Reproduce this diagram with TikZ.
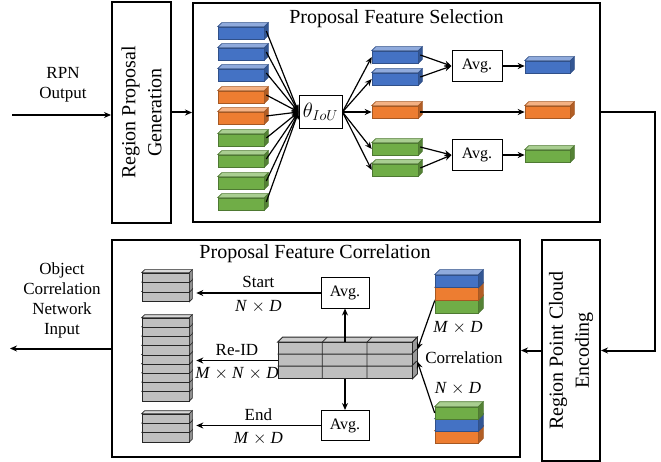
\documentclass[tikz,border=0pt]{standalone}
\usepackage{fontspec}
\setmainfont{Liberation Serif}
\usetikzlibrary{calc,positioning,arrows.meta}
\definecolor{cblue}{HTML}{4472C4}
\definecolor{corange}{HTML}{ED7D31}
\definecolor{cgreen}{HTML}{70AD47}
\definecolor{cgray}{HTML}{BFBFBF}

\begin{document}
\begin{tikzpicture}
[x=1pt,y=-1pt,>={Stealth[length=7pt,width=6pt]},
box/.style={draw,line width=2pt,inner sep=0pt},
avg/.style={draw,line width=1pt,minimum width=50,minimum height=31,font=\fontsize{16}{18}\selectfont},
face/.style={draw=#1!70!black,fill=#1,line width=.6pt,minimum width=\bw,minimum height=\bh,inner sep=0pt},
lbl/.style={font=\fontsize{17}{20}\selectfont,align=center},
ttl/.style={font=\fontsize{20}{26}\selectfont,align=center},
flow/.style={->,line width=2pt},
arr/.style={->,line width=1.2pt},]
\useasboundingbox (0,0) rectangle (661,462);

%Block sizes
\def\bw{46}
\def\bh{12}
\def\dep{4}

%Block with top and side face: name, colour, x, y
\def\cube#1#2#3#4{%
\node[face=#2] (#1) at (#3,#4) {};
\draw[draw=#2!70!black,fill=#2!60!white,line width=.6pt] (#1.north west) -- ++(\dep,-\dep) -- ($(#1.north east)+(\dep,-\dep)$) -- (#1.north east) -- cycle;
\draw[draw=#2!70!black,fill=#2!75!black,line width=.6pt] (#1.north east) -- ++(\dep,-\dep) -- ($(#1.south east)+(\dep,-\dep)$) -- (#1.south east) -- cycle;
}

%Gray stack: name, x, top y, layers
\def\gstack#1#2#3#4{%
\foreach \k in {#4,...,1}{\cube{#1\k}{cgray}{#2}{{#3+(\k-0.5)*\bh}}}
}

%Outer boxes
\node[box,minimum width=59,minimum height=221] (rpg) at (141.5,112.5) {};
\node[ttl,rotate=90] at (rpg) {Region Proposal\\Generation};
\node[box,minimum width=407,minimum height=219] (pfs) at (396.5,112.5) {};
\node[ttl,anchor=north] at (396.5,6) {Proposal Feature Selection};
\node[box,minimum width=58,minimum height=221] (rpce) at (571,350.5) {};
\node[ttl,rotate=90] at (rpce) {Region Point Cloud\\Encoding};
\node[box,minimum width=408,minimum height=217] (pfc) at (316,348.5) {};
\node[ttl,anchor=north] at (315,241) {Proposal Feature Correlation};

%Inputs and outputs
\coordinate (in) at (12,115);
\coordinate (out) at (10,348.5);
\node[lbl] (rpn) at (63,85) {RPN\\Output};
\node[lbl] (ocn) at (62,300) {Object\\Correlation\\Network\\Input};

%Flow between boxes
\draw[flow] (in) -- (in -| rpg.west);
\draw[flow] (rpg.east |- pfs.west) -- (pfs.west);
\draw[flow] (pfs.east) -- ++(54,0) |- (rpce.east);
\draw[flow] (rpce.west) -- (rpce.west -| pfc.east);
\draw[flow] (pfc.west) -- (out);

%Proposal features
\cube{l1}{cblue}{241}{33}
\cube{l2}{cblue}{241}{54}
\cube{l3}{cblue}{241}{75}
\cube{l4}{corange}{241}{97}
\cube{l5}{corange}{241}{118}
\cube{l6}{cgreen}{241}{140}
\cube{l7}{cgreen}{241}{161}
\cube{l8}{cgreen}{241}{183}
\cube{l9}{cgreen}{241}{204}

\node[draw,line width=1pt,minimum width=43,minimum height=33,inner sep=1pt,font=\fontsize{21}{24}\selectfont] (th) at (320.5,112) {$\theta_{IoU}$};

\cube{m1}{cblue}{395}{57}
\cube{m2}{cblue}{395}{79}
\cube{m3}{corange}{395}{112}
\cube{m4}{cgreen}{395}{149}
\cube{m5}{cgreen}{395}{170}

\node[avg] (a1) at (477,66) {Avg.};
\node[avg] (a2) at (477,155) {Avg.};

\def\bw{45}
\cube{r1}{cblue}{547.5}{67}
\cube{r2}{corange}{547.5}{112}
\cube{r3}{cgreen}{547.5}{156}

\foreach \k in {1,...,9}
  \draw[arr] ($(l\k.east)+(2,-2)$) -- (th.west);
\foreach \k in {1,...,5}
  \draw[arr] (th.east) -- (m\k.west);
\draw[arr] ($(m1.east)+(2,-2)$) -- (a1.west);
\draw[arr] ($(m2.east)+(2,-2)$) -- (a1.west);
\draw[arr] ($(m4.east)+(2,-2)$) -- (a2.west);
\draw[arr] ($(m5.east)+(2,-2)$) -- (a2.west);
\draw[arr] (a1.east) -- (a1.east -| r1.west);
\draw[arr] ($(m3.east)+(2,0)$) -- (r2.west);
\draw[arr] (a2.east) -- (a2.east -| r3.west);

%Correlation
\colorlet{ggray}{cgray!55!black}
\def\bw{47}
\def\bh{9.5}
\def\dep{3}
\def\cube#1#2#3#4{%
\node[face=#2,draw=black!85] (#1) at (#3,#4) {};
\draw[draw=black!85,fill=#2!60!white,line width=.6pt] (#1.north west) -- ++(\dep,-\dep) -- ($(#1.north east)+(\dep,-\dep)$) -- (#1.north east) -- cycle;
\draw[draw=black!85,fill=#2!75!black,line width=.6pt] (#1.north east) -- ++(\dep,-\dep) -- ($(#1.south east)+(\dep,-\dep)$) -- (#1.south east) -- cycle;
}
\gstack{s}{165.5}{273}{3}
\def\bh{9.2}
\gstack{e}{165.5}{318}{9}
\def\bh{9.3}
\gstack{f}{165.5}{414}{3}

\node[avg,minimum width=48,minimum height=30] (as) at (345,293) {Avg.};
\node[avg,minimum width=48,minimum height=30] (ae) at (345,425.5) {Avg.};

\node[draw=black!85,fill=cgray,line width=.8pt,minimum width=134,minimum height=36,inner sep=0pt] (T) at (345,360.5) {};
\draw[draw=black!85,fill=cgray!80!white,line width=.8pt] (T.north west) -- ++(5,-5) -- ($(T.north east)+(5,-5)$) -- (T.north east) -- cycle;
\draw[draw=black!85,fill=cgray!80!black,line width=.8pt] (T.north east) -- ++(5,-5) -- ($(T.south east)+(5,-5)$) -- (T.south east) -- cycle;
\foreach \c in {1,2}
  \draw[black!85,line width=.8pt] ($(T.north west)+(\c*44.7,0)$) -- ++(0,36) ($(T.north west)+(\c*44.7,0)$) -- ++(5,-5);
\foreach \r in {1,2}
  \draw[black!85,line width=.8pt] ($(T.north west)+(0,\r*12)$) -- ++(134,0) -- ++(5,-5);

\def\cube#1#2#3#4{%
\node[face=#2] (#1) at (#3,#4) {};
\draw[draw=#2!70!black,fill=#2!60!white,line width=.6pt] (#1.north west) -- ++(\dep,-\dep) -- ($(#1.north east)+(\dep,-\dep)$) -- (#1.north east) -- cycle;
\draw[draw=#2!70!black,fill=#2!75!black,line width=.6pt] (#1.north east) -- ++(\dep,-\dep) -- ($(#1.south east)+(\dep,-\dep)$) -- (#1.south east) -- cycle;
}
\def\bw{43}
\def\bh{12.7}
\def\dep{5}
\cube{t3}{cgreen}{456.5}{306.7}
\cube{t2}{corange}{456.5}{294}
\cube{t1}{cblue}{456.5}{281.3}
\def\bh{12}
\cube{b3}{corange}{456.5}{437}
\cube{b2}{cblue}{456.5}{425}
\cube{b1}{cgreen}{456.5}{413}

\node[lbl] (md) at (458,328) {\textit{M} $\times$ \textit{D}};
\node[lbl] (nd) at (458,389) {\textit{N} $\times$ \textit{D}};
\node[lbl] (corr) at (464,358) {Correlation};

\draw[arr] (t2.south west) -- ($(T.east)+(5,-11)$);
\draw[arr] (b1.west) -- ($(T.east)+(5,1)$);
\draw[arr] (T.north) -- (as.south);
\draw[arr] (T.south) -- (ae.north);
\draw[arr] (as.west) -- ($(as.west -| s1.east)+(7,0)$) node[lbl,midway,above=1pt] {Start} node[lbl,midway,below=3pt] {\textit{N} $\times$ \textit{D}};
\draw[arr] (T.west) -- ($(T.west -| e1.east)+(7,0)$) node[lbl,midway,above=1pt] {Re-ID} node[lbl,midway,below=3pt] {\textit{M} $\times$ \textit{N} $\times$ \textit{D}};
\draw[arr] (ae.west) -- ($(ae.west -| f1.east)+(7,0)$) node[lbl,midway,above=1pt] {End} node[lbl,midway,below=3pt] {\textit{M} $\times$ \textit{D}};

\end{tikzpicture}
\end{document}
